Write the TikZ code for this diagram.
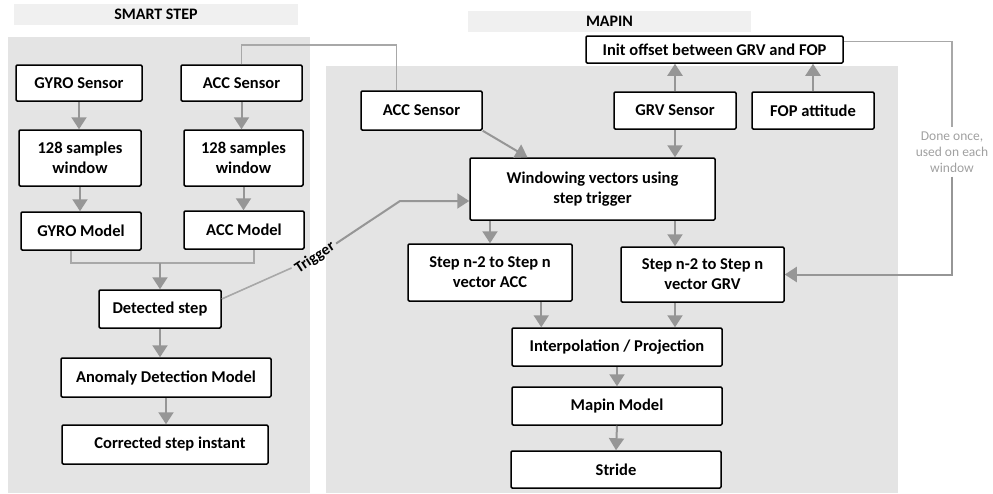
\documentclass[tikz,border=0pt]{standalone}
\usepackage{fontspec}
\setmainfont{Carlito}
\usetikzlibrary{arrows.meta}

\definecolor{panelgray}{RGB}{228,228,228}
\definecolor{bandgray}{RGB}{240,240,240}
\definecolor{arrgray}{RGB}{150,150,150}
\definecolor{linkgray}{RGB}{168,168,168}
\definecolor{notegray}{RGB}{160,160,160}

\tikzset{
  blockbox/.style={draw=black, line width=1.5pt, fill=white, rounded corners=1.2pt, align=center,
    font=\fontsize{16.5}{20}\selectfont\bfseries, inner sep=2pt},
  arr/.style={draw=arrgray, line width=2pt, -{Triangle[width=15pt,length=12pt]}},
  link/.style={draw=linkgray, line width=1.6pt},
  bandtitle/.style={fill=bandgray, font=\fontsize{16}{18}\selectfont\bfseries},
}

\begin{document}
\begin{tikzpicture}[x=1pt,y=1pt,yscale=-1,xscale=1]
\useasboundingbox (0,0) rectangle (993,493);

%Panels and titles
\fill[panelgray] (8,37) rectangle (310,493);
\fill[panelgray] (326,66) rectangle (898,493);
\node[bandtitle, minimum width=284pt, minimum height=21pt] (smartt) at (156,14.5) {SMART STEP};
\node[bandtitle, minimum width=283pt, minimum height=21pt] (mapint) at (609.5,21) {MAPIN};

%SMART STEP blocks
\node[blockbox, minimum width=126pt, minimum height=36pt] (gyro) at (79,83) {GYRO Sensor};
\node[blockbox, minimum width=121pt, minimum height=36pt] (accL) at (241.5,83) {ACC Sensor};
\node[blockbox, minimum width=122pt, minimum height=56pt] (winG) at (80,158) {128 samples\\window};
\node[blockbox, minimum width=119pt, minimum height=56pt] (winA) at (243.5,158) {128 samples\\window};
\node[blockbox, minimum width=120pt, minimum height=38pt] (gyroM) at (81,231) {GYRO Model};
\node[blockbox, minimum width=120pt, minimum height=38pt] (accM) at (244,230) {ACC Model};
\node[blockbox, minimum width=122pt, minimum height=38pt] (det) at (160,309) {Detected step};
\node[blockbox, minimum width=210pt, minimum height=39pt] (anom) at (166,377.5) {Anomaly Detection Model};
\node[blockbox, minimum width=206pt, minimum height=39pt] (corr) at (165,444.5) {\hspace{10pt}Corrected step instant};

%MAPIN blocks
\node[blockbox, minimum width=257pt, minimum height=27pt] (init) at (714.5,49.5) {Init offset between GRV and FOP};
\node[blockbox, minimum width=121pt, minimum height=39pt] (accR) at (421.5,110.5) {ACC Sensor};
\node[blockbox, minimum width=122pt, minimum height=37pt] (grv) at (675,110.5) {GRV Sensor};
\node[blockbox, minimum width=122pt, minimum height=37pt] (fop) at (813,110.5) {FOP attitude};
\node[blockbox, minimum width=245pt, minimum height=62pt] (wind) at (592.5,189) {Windowing vectors using\\step trigger};
\node[blockbox, minimum width=164pt, minimum height=57pt] (stepA) at (490,272.5) {Step n-2 to Step n\\vector ACC};
\node[blockbox, minimum width=163pt, minimum height=55pt] (stepG) at (702.5,274.5) {Step n-2 to Step n\\vector GRV};
\node[blockbox, minimum width=210pt, minimum height=38pt] (interp) at (617,347) {Interpolation / Projection};
\node[blockbox, minimum width=210pt, minimum height=38pt] (mapin) at (617,406) {Mapin Model};
\node[blockbox, minimum width=210pt, minimum height=37pt] (stride) at (616,469.5) {Stride};

%SMART STEP connectors
\draw[arr] (gyro.south) -- (gyro.south |- winG.north);
\draw[arr] (accL.south) -- (accL.south |- winA.north);
\draw[arr] (winG.south) -- (winG.south |- gyroM.north);
\draw[arr] (winA.south) -- (winA.south |- accM.north);
\coordinate (mrg) at (160,263);
\draw[link] ([xshift=-10pt]gyroM.south) |- (mrg) -| ([xshift=10pt]accM.south);
\draw[arr] (mrg) -- (det.north);
\draw[arr] (det.south) -- (det.south |- anom.north);
\draw[arr] (anom.south) -- (anom.south |- corr.north);

%ACC sensor shared
\draw[link] (accL.north) -- ++(0,-19) -| ([xshift=-25pt]accR.north);

%Trigger
\node[rotate=33.4, font=\fontsize{15.5}{17}\selectfont\bfseries, inner sep=3pt] (trig) at (315,257.5) {Trigger};
\coordinate (tcorner) at (400,201);
\draw[link] ([yshift=-10pt]det.east) -- (trig);
\draw[link, arr] (trig) -- (tcorner) -- (tcorner -| wind.west);

%MAPIN connectors
\draw[arr] (accR.south east) -- ([xshift=-65pt]wind.north);
\draw[arr] (grv.north) -- (grv.north |- init.south);
\draw[arr] (fop.north) -- (fop.north |- init.south);
\draw[arr] (grv.south) -- (grv.south |- wind.north);
\draw[arr] (stepA.north |- wind.south) -- (stepA.north);
\draw[arr] (grv.south |- wind.south) -- (grv.south |- stepG.north);
\draw[arr] ([xshift=30pt]interp.north west |- stepA.south) -- ([xshift=30pt]interp.north west);
\draw[arr] (grv.south |- stepG.south) -- (grv.south |- interp.north);
\draw[arr] (interp.south) -- (mapin.north);
\draw[arr] (mapin.south) -- (stride.north);

%Done once
\node[align=center, text=notegray, font=\fontsize{13.5}{16}\selectfont, inner sep=4pt] (done) at (952,152) {Done once,\\used on each\\window};
\draw[link] ([yshift=-8pt]init.east) -| (done.north);
\draw[link, arr] (done.south) |- (stepG.east);

\end{tikzpicture}
\end{document}
